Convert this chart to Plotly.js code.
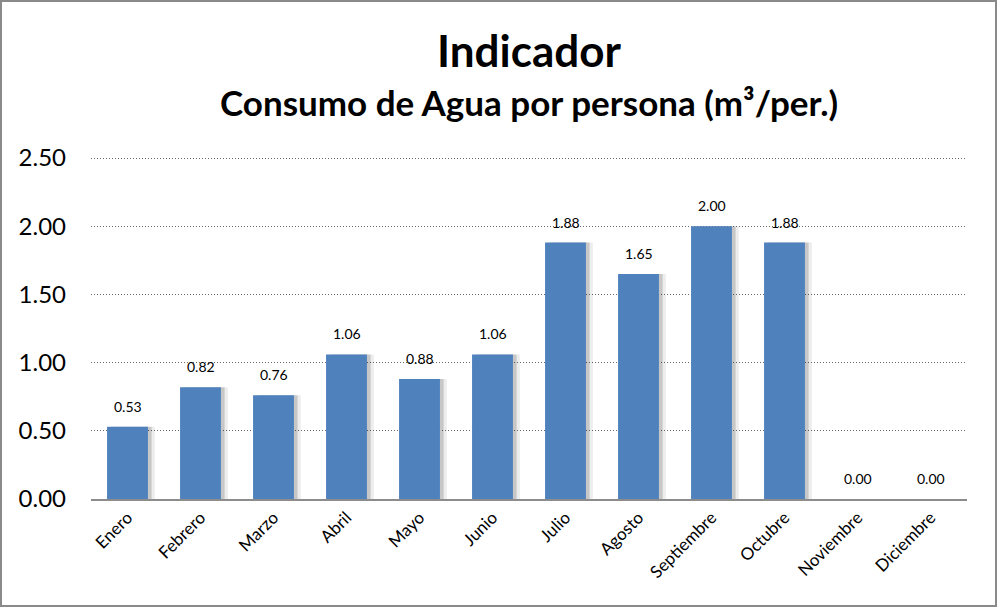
<!DOCTYPE html>
<html>
<head>
<meta charset="utf-8">
<script src="https://cdn.plot.ly/plotly-3.0.1.min.js"></script>
<style>
  html, body { margin: 0; padding: 0; background: #fff; }
  #wrap { position: relative; width: 997px; height: 607px; }
  #chart { width: 997px; height: 607px; }
  #frame { position: absolute; left: 0; top: 0; width: 993px; height: 603px;
           border: 2px solid #8a8a8a; pointer-events: none; }
</style>
</head>
<body>
<div id="wrap"><div id="chart"></div><div id="frame"></div></div>
<script>
const months = ["Enero","Febrero","Marzo","Abril","Mayo","Junio","Julio","Agosto","Septiembre","Octubre","Noviembre","Diciembre"];
const consumo = [0.53, 0.82, 0.76, 1.06, 0.88, 1.06, 1.88, 1.65, 2.00, 1.88, 0.00, 0.00];
const yTicks = [0, 0.5, 1.0, 1.5, 2.0, 2.5];
const titleText = "Indicador";
const subtitleText = "Consumo de Agua por persona (m³/per.)";

const FONT = "Lato, 'Open Sans', sans-serif";
const BW = 0.56;

const shadow2 = {
  type: "bar", x: months, y: consumo, width: BW, offset: -BW/2 + 0.095,
  marker: { color: "rgba(0,0,0,0.07)", line: { width: 0 } },
  hoverinfo: "skip", showlegend: false
};
const shadow1 = {
  type: "bar", x: months, y: consumo, width: BW, offset: -BW/2 + 0.05,
  marker: { color: "rgba(0,0,0,0.16)", line: { width: 0 } },
  hoverinfo: "skip", showlegend: false
};
const bars = {
  type: "bar", x: months, y: consumo, width: BW, offset: -BW/2,
  marker: { color: "#4F81BD", line: { width: 0 } },
  showlegend: false
};

const annotations = months.map((m, i) => ({
  x: m, y: consumo[i], xref: "x", yref: "y",
  text: consumo[i].toFixed(2), showarrow: false,
  yanchor: "bottom", yshift: 10,
  font: { family: FONT, size: 14, color: "#000" }
}));
annotations.push({
  x: 0.5, y: 1.305, xref: "paper", yref: "paper", showarrow: false,
  text: "<b>" + titleText + "</b>", yanchor: "middle",
  font: { family: FONT, size: 44, color: "#000" }
});
annotations.push({
  x: 0.5, y: 1.153, xref: "paper", yref: "paper", showarrow: false,
  text: "<b>" + subtitleText + "</b>", yanchor: "middle",
  font: { family: FONT, size: 35, color: "#000" }
});

const layout = {
  width: 997, height: 607,
  margin: { l: 91, r: 30, t: 155, b: 108, pad: 0 },
  paper_bgcolor: "#fff", plot_bgcolor: "#fff",
  barmode: "overlay",
  showlegend: false,
  xaxis: {
    type: "category", tickangle: -45,
    tickfont: { family: FONT, size: 17, color: "#000" },
    showline: true, linecolor: "#8c8c8c", linewidth: 2,
    ticks: "", showgrid: false, fixedrange: true
  },
  yaxis: {
    range: [0, 2.522], tickvals: yTicks,
    ticktext: yTicks.map(v => v.toFixed(2)),
    tickfont: { family: FONT, size: 24, color: "#000" },
    ticklabelstandoff: 24,
    showgrid: true, gridcolor: "#6a6a6a", gridwidth: 1, griddash: "1px,2px",
    zeroline: false, showline: false, ticks: "", ticklen: 0,
    automargin: false, fixedrange: true
  },
  annotations: annotations
};

Plotly.newPlot("chart", [shadow2, shadow1, bars], layout, { displayModeBar: false, staticPlot: true });
</script>
</body>
</html>
